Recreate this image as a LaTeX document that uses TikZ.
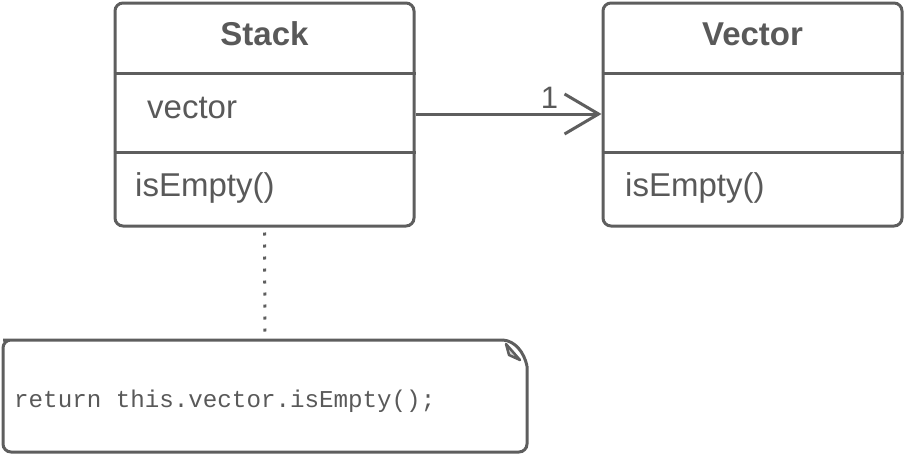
\documentclass[tikz,border=0pt]{standalone}
\usepackage{fontspec}
\setmainfont{Liberation Sans}
\setmonofont{Liberation Mono}
\usetikzlibrary{arrows.meta}
\definecolor{umlgrey}{HTML}{5E5E5E}
\definecolor{umltext}{HTML}{595959}
\definecolor{foldgrey}{HTML}{D4D4D4}
\pgfdeclarelayer{edgelayer}
\pgfdeclarelayer{nodelayer}
\pgfsetlayers{edgelayer,nodelayer,main}
\tikzstyle{classbox}=[rectangle,draw=umlgrey,line width=3pt,rounded corners=8pt,minimum width=299pt,minimum height=223pt,inner sep=0pt]
\tikzstyle{classname}=[anchor=base,inner sep=0pt,text=umltext,font=\fontsize{33}{39}\selectfont\bfseries]
\tikzstyle{member}=[anchor=base west,inner sep=0pt,text=umltext,font=\fontsize{33}{39}\selectfont]
\tikzstyle{divider}=[draw=umlgrey,line width=3pt]
\tikzstyle{association}=[draw=umlgrey,line width=3pt,-{Straight Barb[length=34pt,width=40pt]}]
\tikzstyle{notelink}=[draw=umlgrey,line width=3pt,dash pattern=on 3pt off 9pt,shorten <=5pt,shorten >=3pt]

\begin{document}
\begin{tikzpicture}[x=1pt,y=-1pt]
	\useasboundingbox (0,0) rectangle (905,455);
	\begin{pgfonlayer}{nodelayer}
		\node [style=classbox] (stack) at (264.5, 114.5) {};
		\node [style=classbox] (vector) at (752.5, 114.5) {};
		\node [style=classname] (stackname) at (264.5, 45) {Stack};
		\node [style=classname] (vectorname) at (752.5, 45) {Vector};
		\node [style=member] (stackattr) at (147, 118) {vector};
		\node [style=member] (stackop) at (135, 196) {isEmpty()};
		\node [style=member] (vectorop) at (625, 196) {isEmpty()};
		\node [inner sep=0pt,minimum width=524pt,minimum height=112pt] (note) at (265, 396) {};
		\node [anchor=base west,inner sep=0pt,text=umltext,font=\fontsize{24.2}{28}\selectfont\ttfamily] (notetext) at (14, 407) {return this.vector.isEmpty();};
	\end{pgfonlayer}
	\begin{pgfonlayer}{edgelayer}
		% compartments
		\draw [style=divider] (stack.west |- 0,73) -- (stack.east |- 0,73);
		\draw [style=divider] (stack.west |- 0,152) -- (stack.east |- 0,152);
		\draw [style=divider] (vector.west |- 0,73) -- (vector.east |- 0,73);
		\draw [style=divider] (vector.west |- 0,152) -- (vector.east |- 0,152);
		% note with folded corner
		\draw [draw=umlgrey,line width=3pt,rounded corners=8pt] (503,340) -- (11,340) -- (3,340) -- (3,452) -- (527,452) -- (527,366);
		\draw [draw=umlgrey,line width=3pt,line join=round] (503,340) .. controls (515,341) and (524,352) .. (527,366);
		\draw [draw=umlgrey,fill=foldgrey,line width=2.5pt,line join=round] (506,344) -- (509,355) -- (520,360) -- cycle;
		\draw [style=association] (stack.east |- 0,114) to node[pos=0.72,above=1pt,text=umltext,font=\fontsize{31}{37}\selectfont]{1} (vector.west |- 0,114);
		\draw [style=notelink] (stack.south) to (note.north);
	\end{pgfonlayer}
\end{tikzpicture}
\end{document}
